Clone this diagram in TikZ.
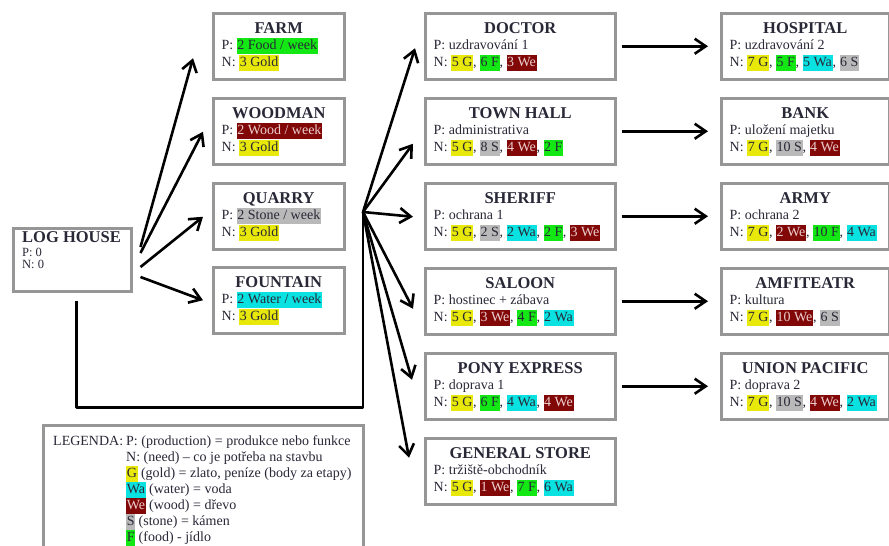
\documentclass[tikz,border=0pt]{standalone}
\usepackage{fontspec}
\setmainfont{Liberation Serif}
\usetikzlibrary{arrows.meta,calc}
\definecolor{hy}{RGB}{232,232,10}
\definecolor{hg}{RGB}{20,232,20}
\definecolor{hr}{RGB}{130,8,8}
\definecolor{hrt}{RGB}{235,205,205}
\definecolor{hc}{RGB}{10,225,225}
\definecolor{hs}{RGB}{185,185,185}
\definecolor{ink}{RGB}{40,40,55}
\definecolor{frame}{RGB}{150,150,150}
\newcommand\hlbox[2]{{\setlength{\fboxsep}{0pt}\colorbox{#1}{\rule[-4.5pt]{0pt}{16pt}\hspace{0.6pt}#2\hspace{0.6pt}}}}
\newcommand\hlY[1]{\hlbox{hy}{#1}}
\newcommand\hlG[1]{\hlbox{hg}{#1}}
\newcommand\hlR[1]{\hlbox{hr}{\color{hrt}#1}}
\newcommand\hlC[1]{\hlbox{hc}{#1}}
\newcommand\hlS[1]{\hlbox{hs}{#1}}
\tikzset{
  bbox/.style={draw=frame, line width=2.5pt, fill=white, rectangle, inner sep=0pt, minimum height=66pt},
  ttl/.style={font=\fontsize{16.5}{18}\selectfont\bfseries, text=ink, inner sep=0pt},
  txt/.style={font=\fontsize{14}{16}\selectfont, text=ink, inner sep=0pt},
  smalltxt/.style={font=\fontsize{12.5}{14}\selectfont, text=ink, inner sep=0pt},
  arr/.style={line width=2.6pt, draw=black, -{Straight Barb[length=11pt,width=15pt]}},
  link/.style={line width=2.6pt, draw=black, line join=round}
}
\newcommand\bldg[7]{%
  \node[bbox, minimum width=#4pt, anchor=north west] (#1) at (#2,#3) {};
  \node[ttl, anchor=base] (#1-t) at ([shift={(0,21.5)}]#1.north) {#5};
  \node[txt, anchor=base west] (#1-p) at ([shift={(9.5,37.5)}]#1.north west) {P: #6};
  \node[txt, anchor=base west] (#1-n) at ([shift={(9.5,54)}]#1.north west) {N: #7};
}
\begin{document}
\begin{tikzpicture}[x=1pt,y=-1pt]
\useasboundingbox (0,0) rectangle (889,546);
\clip (0,0) rectangle (889,546);
\fill[white] (0,0) rectangle (889,546);

% log house
\node[bbox, minimum width=118pt, minimum height=63pt, anchor=north west] (house) at (12,227) {};
\node[ttl, anchor=base west] (house-t) at ([shift={(10,15.5)}]house.north west) {LOG HOUSE};
\node[smalltxt, anchor=base west] (house-p) at ([shift={(10,29)}]house.north west) {P: 0};
\node[smalltxt, anchor=base west] (house-n) at ([shift={(10,41.5)}]house.north west) {N: 0};

% first column
\bldg{farm}{212}{12}{131}{FARM}{\hlG{2 Food / week}}{\hlY{3 Gold}}
\bldg{woodman}{212}{97}{131}{WOODMAN}{\hlR{2 Wood / week}}{\hlY{3 Gold}}
\bldg{quarry}{212}{182}{131}{QUARRY}{\hlS{2 Stone / week}}{\hlY{3 Gold}}
\bldg{fountain}{212}{266}{131}{FOUNTAIN}{\hlC{2 Water / week}}{\hlY{3 Gold}}

% second column
\bldg{doctor}{424}{12}{190}{DOCTOR}{uzdravování 1}{\hlY{5 G}, \hlG{6 F}, \hlR{3 We}}
\bldg{townhall}{424}{97}{190}{TOWN HALL}{administrativa}{\hlY{5 G}, \hlS{8 S}, \hlR{4 We}, \hlG{2 F}}
\bldg{sheriff}{424}{182}{190}{SHERIFF}{ochrana 1}{\hlY{5 G}, \hlS{2 S}, \hlC{2 Wa}, \hlG{2 F}, \hlR{3 We}}
\bldg{saloon}{424}{267}{190}{SALOON}{hostinec + zábava}{\hlY{5 G}, \hlR{3 We}, \hlG{4 F}, \hlC{2 Wa}}
\bldg{pony}{424}{352}{190}{PONY EXPRESS}{doprava 1}{\hlY{5 G}, \hlG{6 F}, \hlC{4 Wa}, \hlR{4 We}}
\bldg{general}{424}{437}{190}{GENERAL STORE}{tržiště-obchodník}{\hlY{5 G}, \hlR{1 We}, \hlG{7 F}, \hlC{6 Wa}}

% third column
\bldg{hospital}{720}{12}{168}{HOSPITAL}{uzdravování 2}{\hlY{7 G}, \hlG{5 F}, \hlC{5 Wa}, \hlS{6 S}}
\bldg{bank}{720}{97}{168}{BANK}{uložení majetku}{\hlY{7 G}, \hlS{10 S}, \hlR{4 We}}
\bldg{army}{720}{182}{168}{ARMY}{ochrana 2}{\hlY{7 G}, \hlR{2 We}, \hlG{10 F}, \hlC{4 Wa}}
\bldg{amfi}{720}{267}{168}{AMFITEATR}{kultura}{\hlY{7 G}, \hlR{10 We}, \hlS{6 S}}
\bldg{union}{720}{352}{168}{UNION PACIFIC}{doprava 2}{\hlY{7 G}, \hlS{10 S}, \hlR{4 We}, \hlC{2 Wa}}

% house arrows
\draw[arr] ([shift={(8,20)}]house.north east) -- ([shift={(-19,12)}]farm.west);
\draw[arr] ([shift={(8,26)}]house.north east) -- ([shift={(-9,0.5)}]woodman.west);
\draw[arr] ([shift={(8,40)}]house.north east) -- ([shift={(-9,0.5)}]quarry.west);
\draw[arr] ([shift={(8,50)}]house.north east) -- ([shift={(-9,0)}]fountain.west);

% link from house to hub
\coordinate (hub) at (363,212);
\coordinate (hb) at ([shift={(4,8)}]house.south);
\draw[link] (hb) -- ++(0,107) -| (hub);

% hub arrows
\draw[arr] (hub) -- ([shift={(-9,2)}]doctor.west);
\draw[arr] (hub) -- ([shift={(-11,12.5)}]townhall.west);
\draw[arr] (hub) -- ([shift={(-11,0.5)}]sheriff.west);
\draw[arr] (hub) -- ([shift={(-11,7.5)}]saloon.west);
\draw[arr] (hub) -- ([shift={(-12,-6.5)}]pony.west);
\draw[arr] (hub) -- ([shift={(-15,-13.5)}]general.west);

% second to third column
\draw[arr] ([xshift=5pt]doctor.east) -- ([xshift=-12pt]hospital.west);
\draw[arr] ([xshift=5pt]townhall.east) -- ([xshift=-12pt]bank.west);
\draw[arr] ([xshift=5pt]sheriff.east) -- ([xshift=-12pt]army.west);
\draw[arr] ([xshift=5pt]saloon.east) -- ([xshift=-12pt]amfi.west);
\draw[arr] ([xshift=5pt]pony.east) -- ([xshift=-12pt]union.west);

% legend
\node[draw=frame, line width=2.5pt, fill=white, rectangle, inner sep=0pt, minimum width=320pt, minimum height=140pt, anchor=north west] (legend) at (42,424) {};
\node[txt, anchor=base west] (lg1) at ([shift={(11,21)}]legend.north west) {\makebox[73pt][l]{LEGENDA:}P: (production) = produkce nebo funkce};
\node[txt, anchor=base west] (lg2) at ([shift={(84,37)}]legend.north west) {N: (need) – co je potřeba na stavbu};
\node[txt, anchor=base west] (lg3) at ([shift={(84,53)}]legend.north west) {\hlY{G} (gold) = zlato, peníze (body za etapy)};
\node[txt, anchor=base west] (lg4) at ([shift={(84,69)}]legend.north west) {\hlC{Wa} (water) = voda};
\node[txt, anchor=base west] (lg5) at ([shift={(84,85)}]legend.north west) {\hlR{We} (wood) = dřevo};
\node[txt, anchor=base west] (lg6) at ([shift={(84,101)}]legend.north west) {\hlS{S} (stone) = kámen};
\node[txt, anchor=base west] (lg7) at ([shift={(84,117)}]legend.north west) {\hlG{F} (food) - jídlo};
\end{tikzpicture}
\end{document}
